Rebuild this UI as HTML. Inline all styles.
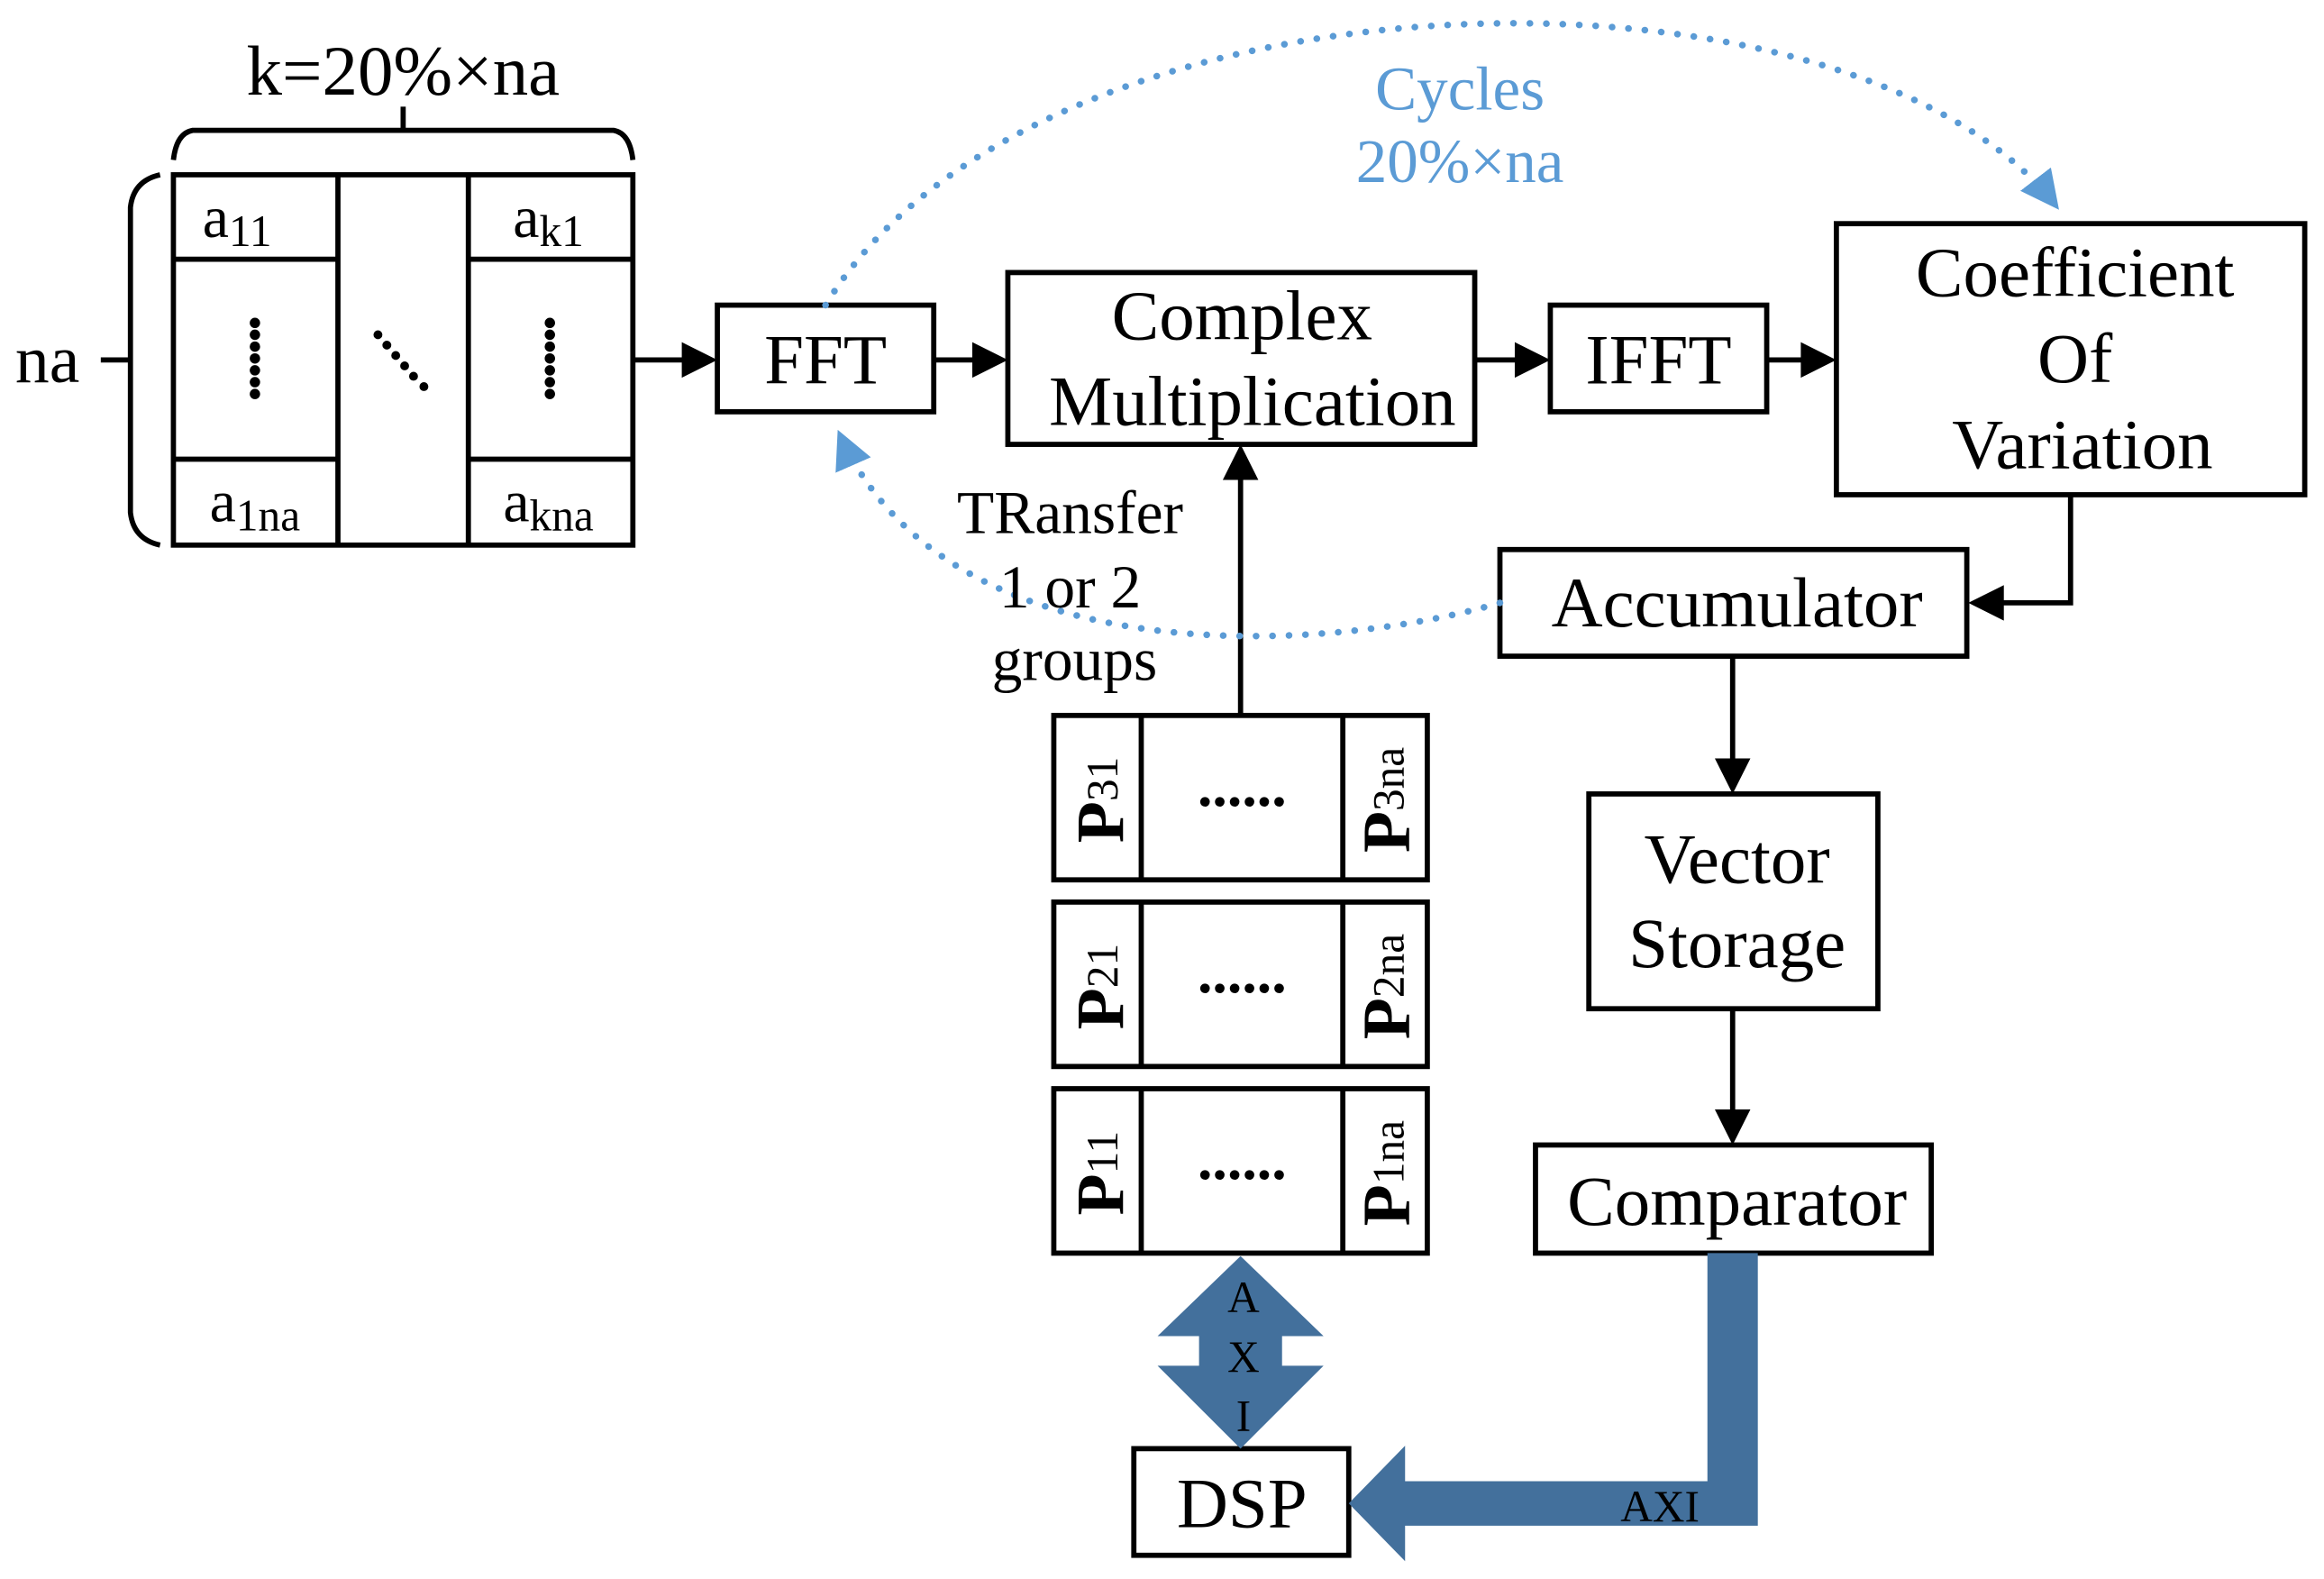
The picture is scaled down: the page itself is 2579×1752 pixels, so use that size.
<!DOCTYPE html>
<html><head><meta charset="utf-8"><style>html,body{margin:0;padding:0;background:#fff}svg{display:block}</style></head>
<body>
<svg width="2579" height="1752" viewBox="0 0 1568 1066" preserveAspectRatio="none" xmlns="http://www.w3.org/2000/svg" font-family="'Liberation Serif', serif">
<defs>
<marker id="bb" markerWidth="26" markerHeight="26" refX="24" refY="13" orient="auto" markerUnits="userSpaceOnUse" viewBox="0 0 26 26"><path d="M0,0 L26,13 L0,26 z" fill="#5b9bd5"/></marker>
</defs>
<g fill="none" stroke="#000" stroke-width="3.5">
<rect x="117" y="118" width="310" height="250"/>
<line x1="228" y1="118" x2="228" y2="368"/><line x1="316" y1="118" x2="316" y2="368"/>
<line x1="117" y1="175" x2="228" y2="175"/><line x1="117" y1="310" x2="228" y2="310"/>
<line x1="316" y1="175" x2="427" y2="175"/><line x1="316" y1="310" x2="427" y2="310"/>
<path d="M117,108 Q119,90 130,88 L414,88 Q425,90 427,108"/>
<line x1="272" y1="88" x2="272" y2="72"/>
<path d="M108,118 Q90,122 88,140 L88,346 Q90,364 108,368"/>
<line x1="68" y1="243" x2="88" y2="243"/>
<rect x="484" y="206" width="146" height="72"/>
<rect x="680" y="184" width="315" height="116"/>
<rect x="1046" y="206" width="146" height="72"/>
<rect x="1239" y="151" width="316" height="183"/>
<rect x="1012" y="371" width="315" height="72"/>
<rect x="1072" y="536" width="195" height="145"/>
<rect x="1036" y="773" width="267" height="73"/>
<rect x="765" y="978" width="145" height="72"/>
<rect x="711" y="483" width="252" height="111"/><line x1="770" y1="483" x2="770" y2="594"/><line x1="906" y1="483" x2="906" y2="594"/>
<rect x="711" y="609" width="252" height="111"/><line x1="770" y1="609" x2="770" y2="720"/><line x1="906" y1="609" x2="906" y2="720"/>
<rect x="711" y="735" width="252" height="111"/><line x1="770" y1="735" x2="770" y2="846"/><line x1="906" y1="735" x2="906" y2="846"/>
</g>
<g fill="#000">
<line x1="427" y1="243" x2="462" y2="243" stroke="#000" stroke-width="3.5"/><path d="M460,231 L484,243 L460,255z"/>
<line x1="630" y1="243" x2="658" y2="243" stroke="#000" stroke-width="3.5"/><path d="M656,231 L680,243 L656,255z"/>
<line x1="995" y1="243" x2="1024" y2="243" stroke="#000" stroke-width="3.5"/><path d="M1022,231 L1046,243 L1022,255z"/>
<line x1="1192" y1="243" x2="1217" y2="243" stroke="#000" stroke-width="3.5"/><path d="M1215,231 L1239,243 L1215,255z"/>
<polyline points="1397,334 1397,407 1350,407" fill="none" stroke="#000" stroke-width="3.5"/><path d="M1352,395 L1328,407 L1352,419z"/>
<line x1="1169" y1="443" x2="1169" y2="514" stroke="#000" stroke-width="3.5"/><path d="M1157,512 L1169,536 L1181,512z"/>
<line x1="1169" y1="681" x2="1169" y2="751" stroke="#000" stroke-width="3.5"/><path d="M1157,749 L1169,773 L1181,749z"/>
<line x1="837" y1="483" x2="837" y2="322" stroke="#000" stroke-width="3.5"/><path d="M825,324 L837,300 L849,324z"/>
<circle cx="172" cy="218" r="3.5"/><circle cx="172" cy="226" r="3.5"/><circle cx="172" cy="234" r="3.5"/><circle cx="172" cy="242" r="3.5"/><circle cx="172" cy="250" r="3.5"/><circle cx="172" cy="258" r="3.5"/><circle cx="172" cy="266" r="3.5"/>
<circle cx="371" cy="218" r="3.5"/><circle cx="371" cy="226" r="3.5"/><circle cx="371" cy="234" r="3.5"/><circle cx="371" cy="242" r="3.5"/><circle cx="371" cy="250" r="3.5"/><circle cx="371" cy="258" r="3.5"/><circle cx="371" cy="266" r="3.5"/>
<circle cx="255" cy="226" r="3"/><circle cx="261" cy="233" r="3"/><circle cx="267" cy="240" r="3"/><circle cx="273" cy="247" r="3"/><circle cx="279" cy="254" r="3"/><circle cx="286" cy="261" r="3"/>
</g>
<g fill="#43709c">
<path d="M1152,846 L1186,846 L1186,1030 L948,1030 L948,1054 L910,1015 L948,976 L948,1000 L1152,1000 z"/>
<path d="M837,848 L893,902 L865,902 L865,922 L893,922 L837,978 L781,922 L809,922 L809,902 L781,902 z"/>
</g>
<g fill="none" stroke="#5b9bd5" stroke-width="4.5" stroke-dasharray="0.1 11" stroke-linecap="round">
<path d="M557,206 C700,-30 1250,-40 1388,140" marker-end="url(#bb)"/>
<path d="M1012,407 C900,440 640,460 566,292" marker-end="url(#bb)"/>
</g>
<g fill="#000" text-anchor="middle" font-size="48">
<text x="272" y="64" font-size="48">k=20%×na</text>
<text x="32" y="258" font-size="46">na</text>
<text x="160" y="160" font-size="40">a<tspan font-size="30" dy="6">11</tspan></text>
<text x="370" y="160" font-size="40">a<tspan font-size="30" dy="6">k1</tspan></text>
<text x="172" y="352" font-size="40">a<tspan font-size="30" dy="6">1na</tspan></text>
<text x="370" y="352" font-size="40">a<tspan font-size="30" dy="6">kna</tspan></text>
<text x="557" y="259">FFT</text>
<text x="838" y="229">Complex</text>
<text x="845" y="287">Multiplication</text>
<text x="1119" y="259">IFFT</text>
<text x="1400" y="200">Coefficient</text>
<text x="1400" y="258">Of</text>
<text x="1405" y="316">Variation</text>
<text x="1172" y="423">Accumulator</text>
<text x="1172" y="596">Vector</text>
<text x="1172" y="653">Storage</text>
<text x="1172" y="827">Comparator</text>
<text x="838" y="1031">DSP</text>
<text x="722" y="360" font-size="41">TRansfer</text>
<text x="722" y="410" font-size="41">1 or 2</text>
<text x="725" y="459" font-size="41">groups</text>
<g fill="#5b9bd5" font-size="42"><text x="985" y="74">Cycles</text><text x="985" y="123">20%×na</text></g>
<g font-size="30"><text x="839" y="886">A</text><text x="839" y="926">X</text><text x="839" y="966">I</text><text x="1120" y="1027">AXI</text></g>
<g font-size="40" font-weight="bold">
<text x="838" y="544">......</text><text x="838" y="670">......</text><text x="838" y="796">......</text>
</g>
<g font-size="46" font-weight="bold" text-anchor="middle">
<text transform="translate(758,540) rotate(-90)">P<tspan font-size="30" font-weight="normal" dy="-4">31</tspan></text>
<text transform="translate(758,666) rotate(-90)">P<tspan font-size="30" font-weight="normal" dy="-4">21</tspan></text>
<text transform="translate(758,792) rotate(-90)">P<tspan font-size="30" font-weight="normal" dy="-4">11</tspan></text>
<text transform="translate(951,540) rotate(-90)">P<tspan font-size="30" font-weight="normal" dy="-4">3na</tspan></text>
<text transform="translate(951,666) rotate(-90)">P<tspan font-size="30" font-weight="normal" dy="-4">2na</tspan></text>
<text transform="translate(951,792) rotate(-90)">P<tspan font-size="30" font-weight="normal" dy="-4">1na</tspan></text>
</g>
</g>
</svg>
</body></html>
